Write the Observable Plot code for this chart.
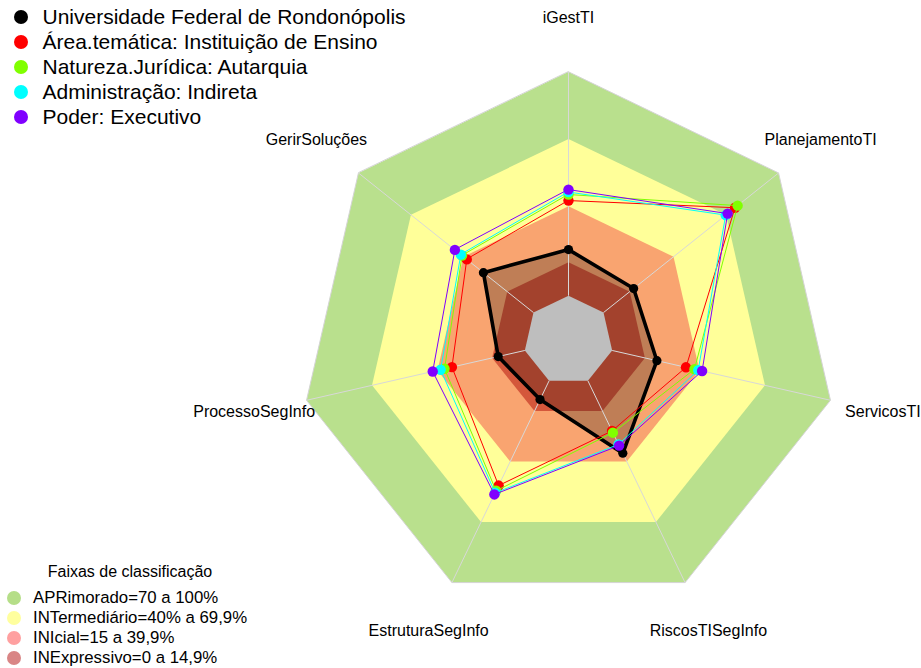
<!DOCTYPE html>
<html><head><meta charset="utf-8">
<script src="https://cdn.jsdelivr.net/npm/d3@7"></script>
<script src="https://cdn.jsdelivr.net/npm/@observablehq/plot@0.6"></script>
<style>
body{margin:0;background:#fff;font-family:"Liberation Sans",Arial,sans-serif;color:#000;}
#wrap{position:relative;width:921px;height:668px;overflow:hidden;}
#wrap svg{position:absolute;left:0;top:0;}
.legTop{position:absolute;left:0;top:4.5px;font-size:21px;}
.legTop .row{display:flex;align-items:center;height:25px;white-space:nowrap;}
.legTop .dot{width:14px;height:14px;border-radius:50%;margin-left:14px;margin-right:14.5px;}
.legBot{position:absolute;left:0;top:562px;}
.legBot .ttl{width:260px;text-align:center;height:20px;line-height:20px;font-size:16px;}
.legBot .row{display:flex;align-items:center;height:20px;white-space:nowrap;font-size:16.8px;}
.legBot .row.first{margin-top:5.5px;}
.legBot .dot{width:14px;height:14px;border-radius:50%;margin-left:7px;margin-right:12px;}
</style></head><body>
<div id="wrap"></div>
<script>
// ---- data ----
const axesNames = ["iGestTI","PlanejamentoTI","ServicosTI","RiscosTISegInfo","EstruturaSegInfo","ProcessoSegInfo","GerirSoluções"];
const seriesNames = ["Universidade Federal de Rondonópolis","Área.temática: Instituição de Ensino","Natureza.Jurídica: Autarquia","Administração: Indireta","Poder: Executivo"];
const seriesColors = ["#000000","#ff0000","#80ff00","#00ffff","#8000ff"];
const ufr              = [20.6, 17.2, 20.5, 35.9,  9.3, 12.2, 28.6];
const areaTematica     = [42.5, 75.1, 33.8, 24.8, 51.9, 33.4, 38.1];
const naturezaJuridica = [45.2, 76.6, 37.7, 25.7, 54.5, 36.8, 40.8];
const administracao    = [46.3, 69.8, 39.4, 31.5, 55.5, 38.6, 41.5];
const poder            = [47.4, 70.9, 41.2, 32.1, 56.3, 42.2, 44.9];
const seriesValues = [ufr, areaTematica, naturezaJuridica, administracao, poder];

const bandLimits = [100, 70, 40, 15];
const bandNames = ["APRimorado=70 a 100%","INTermediário=40% a 69,9%","INIcial=15 a 39,9%","INExpressivo=0 a 14,9%"];
const bandColors = ["#b9e08d","#ffff99","#f9a470","#d4573b"];
const legendBandColors = ["#b5de88","#ffff9e","#ffa0a0","#d98585"];
const legendTitle = "Faixas de classificação";

// ---- geometry (fmsb-like radial scale: centre hole = 1/6 of radius) ----
const W = 921, H = 668, CX = 568, CY = 340, R = 268.7;
const n = axesNames.length;
const rho = v => 1/6 + (5/6) * v / 100;
const ang = i => i * 2 * Math.PI / n;
const pt = (i, v) => ({x: rho(v) * Math.sin(ang(i)), y: rho(v) * Math.cos(ang(i))});

const polyRows = (vals, key) => vals.map((v, i) => ({key, i, v, ...pt(i, v)}));

const marks = [];
// bands
bandLimits.forEach((lim, k) => {
  marks.push(Plot.line(polyRows(axesNames.map(() => lim), bandNames[k]), {
    x: "x", y: "y", curve: "linear-closed", fill: bandColors[k],
    stroke: k === 0 ? "#d4d4d4" : "none", strokeWidth: 1
  }));
});
// shading of first series polygon
marks.push(Plot.line(polyRows(ufr, "ufrFill"), {x: "x", y: "y", curve: "linear-closed", fill: "#000", fillOpacity: 0.23, stroke: "none"}));
// spokes
marks.push(Plot.link(axesNames.map((a, i) => ({a, i})), {
  x1: d => pt(d.i, 0).x, y1: d => pt(d.i, 0).y,
  x2: d => pt(d.i, 100).x, y2: d => pt(d.i, 100).y,
  stroke: "#d8d8d8", strokeWidth: 1
}));
// centre hole
marks.push(Plot.line(polyRows(axesNames.map(() => 0), "hole"), {x: "x", y: "y", curve: "linear-closed", fill: "#bebebe", stroke: "none"}));
// series
seriesValues.forEach((vals, s) => {
  const rows = polyRows(vals, seriesNames[s]);
  marks.push(Plot.line(rows, {x: "x", y: "y", curve: "linear-closed", stroke: seriesColors[s], strokeWidth: s === 0 ? 3.6 : 1}));
  marks.push(Plot.dot(rows, {x: "x", y: "y", r: s === 0 ? 4.6 : 5.2, fill: seriesColors[s], stroke: "none"}));
});
// axis labels
marks.push(Plot.text(axesNames.map((a, i) => ({a, ...pt(i, 124)})), {
  x: "x", y: "y", text: "a", textAnchor: "middle", fontSize: 16, fill: "#000",
  fontFamily: "Liberation Sans, Arial, sans-serif"
}));

const chart = Plot.plot({
  width: W, height: H,
  marginTop: 0, marginRight: 0, marginBottom: 0, marginLeft: 0,
  x: {axis: null, domain: [-CX / R, (W - CX) / R], range: [0, W]},
  y: {axis: null, domain: [-(H - CY) / R, CY / R], range: [H, 0]},
  style: {background: "transparent", fontFamily: "Liberation Sans, Arial, sans-serif"},
  marks
});
const wrap = document.getElementById("wrap");
wrap.appendChild(chart);

// legends (HTML overlays)
const legTopEl = document.createElement("div");
legTopEl.className = "legTop";
seriesNames.forEach((nm, s) => {
  const r = document.createElement("div"); r.className = "row";
  const d = document.createElement("span"); d.className = "dot"; d.style.background = seriesColors[s];
  const t = document.createElement("span"); t.textContent = nm;
  r.append(d, t); legTopEl.appendChild(r);
});
wrap.appendChild(legTopEl);

const legBotEl = document.createElement("div");
legBotEl.className = "legBot";
const ttl = document.createElement("div"); ttl.className = "ttl"; ttl.textContent = legendTitle;
legBotEl.appendChild(ttl);
bandNames.forEach((nm, k) => {
  const r = document.createElement("div"); r.className = k === 0 ? "row first" : "row";
  const d = document.createElement("span"); d.className = "dot"; d.style.background = legendBandColors[k];
  const t = document.createElement("span"); t.textContent = nm;
  r.append(d, t); legBotEl.appendChild(r);
});
wrap.appendChild(legBotEl);
</script>
</body></html>
